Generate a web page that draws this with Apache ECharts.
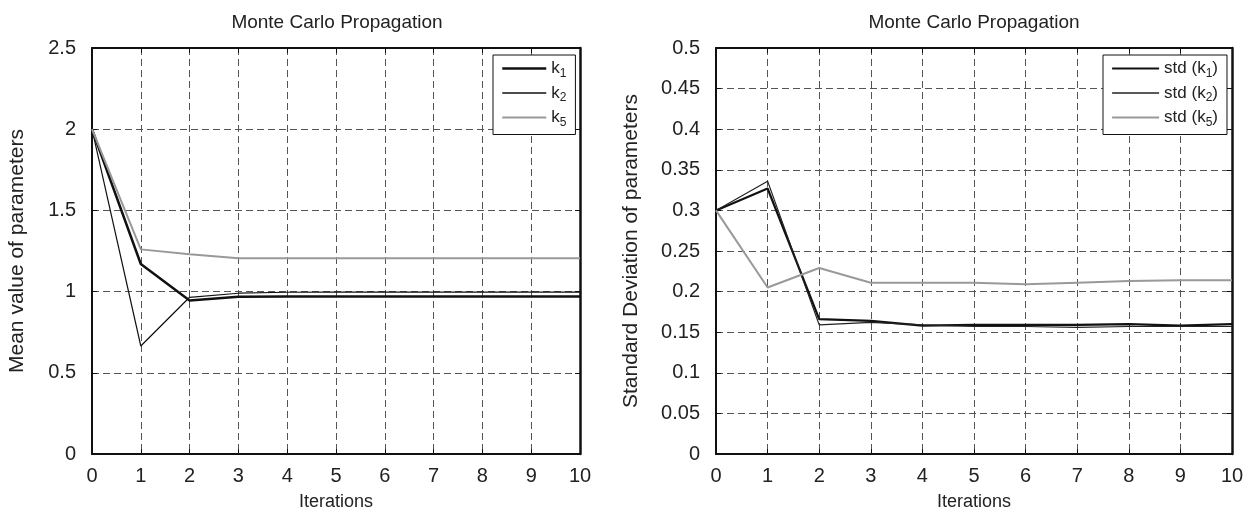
<!DOCTYPE html>
<html>
<head>
<meta charset="utf-8">
<script src="https://cdn.jsdelivr.net/npm/echarts@6/dist/echarts.min.js"></script>
<style>
  html, body { margin: 0; padding: 0; background: #fff; }
  #chart { width: 1256px; height: 521px; }
</style>
</head>
<body>
<div id="chart"></div>
<script>
// Iteration index shared by both panels
const iterations = [0, 1, 2, 3, 4, 5, 6, 7, 8, 9, 10];

// Mean value of parameters per iteration
const meanK1 = [2, 1.17, 0.945, 0.968, 0.97, 0.97, 0.97, 0.97, 0.97, 0.97, 0.97];
const meanK2 = [2, 0.665, 0.965, 0.99, 0.996, 0.997, 0.997, 0.997, 0.997, 0.997, 0.997];
const meanK5 = [2, 1.26, 1.23, 1.205, 1.205, 1.205, 1.205, 1.205, 1.205, 1.205, 1.205];

// Standard deviation of parameters per iteration
const stdK1 = [0.3, 0.327, 0.166, 0.164, 0.158, 0.159, 0.159, 0.159, 0.160, 0.158, 0.160];
const stdK2 = [0.3, 0.336, 0.159, 0.162, 0.159, 0.157, 0.157, 0.156, 0.157, 0.157, 0.157];
const stdK5 = [0.3, 0.205, 0.229, 0.211, 0.211, 0.211, 0.209, 0.211, 0.213, 0.214, 0.214];

const FONT = "'Liberation Sans', Arial, Helvetica, sans-serif";
const TXT = '#222';

// Line look per series: [colour, width, legend sample width]
const STYLE = {
  'k1': ['#111', 2.5, 2.5], 'k2': ['#111', 1.2, 1.6], 'k5': ['#999', 2, 2],
  'std (k1)': ['#111', 2.2, 2.2], 'std (k2)': ['#222', 1.2, 1.6], 'std (k5)': ['#999', 2, 2]
};

function pairs(ys) { return iterations.map((x, i) => [x, ys[i]]); }

function mainX(gridIndex) {
  return {
    type: 'value', gridIndex, min: 0, max: 10, interval: 1,
    name: 'Iterations', nameLocation: 'middle', nameGap: 39,
    nameTextStyle: { color: TXT, fontSize: 18, fontFamily: FONT },
    axisLine: { show: true, onZero: false, lineStyle: { color: '#111', width: 2 } },
    axisTick: { show: true, inside: true, length: 5, lineStyle: { color: '#111', width: 1 } },
    axisLabel: { color: TXT, fontSize: 20, fontFamily: FONT, margin: 12 },
    splitLine: { show: true, lineStyle: { color: '#555', width: 1, type: [7, 4] } }
  };
}
function topX(gridIndex) {
  return {
    type: 'value', gridIndex, min: 0, max: 10, interval: 1, position: 'top',
    axisLine: { show: true, onZero: false, lineStyle: { color: '#111', width: 2 } },
    axisTick: { show: true, inside: true, length: 5, lineStyle: { color: '#111', width: 1 } },
    axisLabel: { show: false }, splitLine: { show: false }
  };
}
function mainY(gridIndex, max, interval, name, gap) {
  return {
    type: 'value', gridIndex, min: 0, max, interval,
    name, nameLocation: 'middle', nameGap: gap,
    nameTextStyle: { color: TXT, fontSize: 21, fontFamily: FONT },
    axisLine: { show: true, onZero: false, lineStyle: { color: '#111', width: 2 } },
    axisTick: { show: true, inside: true, length: 5, lineStyle: { color: '#111', width: 1 } },
    axisLabel: { color: TXT, fontSize: 20, fontFamily: FONT, margin: 16 },
    splitLine: { show: true, lineStyle: { color: '#555', width: 1, type: [7, 4] } }
  };
}
function rightY(gridIndex, max, interval) {
  return {
    type: 'value', gridIndex, min: 0, max, interval, position: 'right',
    axisLine: { show: true, onZero: false, lineStyle: { color: '#111', width: 2.5 } },
    axisTick: { show: true, inside: true, length: 5, lineStyle: { color: '#111', width: 1 } },
    axisLabel: { show: false }, splitLine: { show: false }
  };
}

function line(name, ys, xi, yi) {
  const [color, width] = STYLE[name];
  return {
    name, type: 'line', xAxisIndex: xi, yAxisIndex: yi,
    data: pairs(ys), showSymbol: false, symbol: 'none', animation: false,
    lineStyle: { color, width }, itemStyle: { color }
  };
}

// Legend text: "k" with a lowered index digit
function legendLabel(name) {
  const m = name.match(/^(.*k)(\d)(\)?)$/);
  if (!m) return name;
  return '{t|' + m[1] + '}{s|' + m[2] + '}' + (m[3] ? '{t|' + m[3] + '}' : '');
}
const legendRich = {
  t: { fontSize: 17, lineHeight: 22, verticalAlign: 'middle', fontFamily: FONT, color: TXT },
  s: { fontSize: 12, lineHeight: 12, verticalAlign: 'bottom', fontFamily: FONT, color: TXT }
};
function legend(names, left, itemWidth) {
  return {
    data: names.map(n => ({
      name: n,
      lineStyle: { color: STYLE[n][0], width: STYLE[n][2] },
      itemStyle: { opacity: 0 }
    })),
    orient: 'vertical', left, top: 55,
    itemWidth, itemHeight: 14, itemGap: 5,
    itemStyle: { opacity: 0 },
    backgroundColor: '#fff', borderColor: '#111', borderWidth: 1,
    padding: [5, 9, 6, 8], selectedMode: false,
    formatter: legendLabel,
    textStyle: { rich: legendRich, fontSize: 17, fontFamily: FONT, color: TXT }
  };
}

const chart = echarts.init(document.getElementById('chart'), null, { renderer: 'canvas' });
chart.setOption({
  animation: false,
  backgroundColor: '#fff',
  title: [
    { text: 'Monte Carlo Propagation', left: 332, top: 8, textAlign: 'center',
      textStyle: { color: TXT, fontSize: 19, fontWeight: 'normal', fontFamily: FONT } },
    { text: 'Monte Carlo Propagation', left: 969, top: 8, textAlign: 'center',
      textStyle: { color: TXT, fontSize: 19, fontWeight: 'normal', fontFamily: FONT } }
  ],
  legend: [
    legend(['k1', 'k2', 'k5'], 493, 44),
    legend(['std (k1)', 'std (k2)', 'std (k5)'], 1103, 47)
  ],
  grid: [
    { left: 92, top: 48, width: 488, height: 406 },
    { left: 716, top: 48, width: 516, height: 406 }
  ],
  xAxis: [mainX(0), topX(0), mainX(1), topX(1)],
  yAxis: [
    mainY(0, 2.5, 0.5, 'Mean value of parameters', 64),
    rightY(0, 2.5, 0.5),
    mainY(1, 0.5, 0.05, 'Standard Deviation of parameters', 74),
    rightY(1, 0.5, 0.05)
  ],
  series: [
    line('k1', meanK1, 0, 0),
    line('k2', meanK2, 0, 0),
    line('k5', meanK5, 0, 0),
    line('std (k1)', stdK1, 2, 2),
    line('std (k2)', stdK2, 2, 2),
    line('std (k5)', stdK5, 2, 2)
  ]
});
</script>
</body>
</html>
